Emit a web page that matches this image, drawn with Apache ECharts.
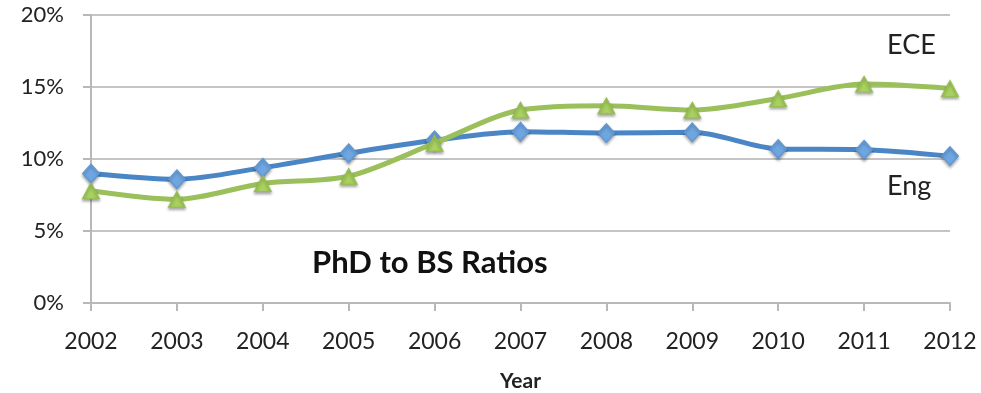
<!DOCTYPE html>
<html>
<head>
<meta charset="utf-8">
<script src="https://cdn.jsdelivr.net/npm/echarts@6/dist/echarts.min.js"></script>
<style>
html,body{margin:0;padding:0;background:#fff;}
#c{width:981px;height:393px;}
</style>
</head>
<body>
<div id="c"></div>
<script>
var years = ['2002','2003','2004','2005','2006','2007','2008','2009','2010','2011','2012'];
var engValues = [9.0, 8.6, 9.4, 10.4, 11.3, 11.9, 11.8, 11.85, 10.7, 10.65, 10.2];
var eceValues = [7.8, 7.2, 8.3, 8.8, 11.1, 13.4, 13.7, 13.4, 14.2, 15.2, 14.9];
var yTicks = [0, 5, 10, 15, 20];

var chart = echarts.init(document.getElementById('c'));
var fontFamily = 'Lato, "Open Sans", sans-serif';
chart.setOption({
  animation: false,
  backgroundColor: '#fff',
  grid: { left: 91, right: 31, top: 15, bottom: 90, containLabel: false, outerBoundsMode: 'none' },
  xAxis: {
    type: 'category',
    data: years,
    boundaryGap: false,
    axisLine: { lineStyle: { color: '#b8b8b8', width: 2 } },
    axisTick: { show: true, alignWithLabel: true, length: 8, lineStyle: { color: '#b8b8b8', width: 2 } },
    axisLabel: { color: '#222', fontSize: 23, fontFamily: fontFamily, margin: 27 },
    name: 'Year',
    nameLocation: 'middle',
    nameGap: 68,
    nameTextStyle: { color: '#222', fontSize: 21, fontWeight: 'bold', fontFamily: fontFamily }
  },
  yAxis: {
    type: 'value',
    min: yTicks[0],
    max: yTicks[yTicks.length - 1],
    interval: 5,
    axisLine: { show: true, lineStyle: { color: '#b8b8b8', width: 2 } },
    axisTick: { show: true, length: 8, lineStyle: { color: '#b8b8b8', width: 2 } },
    axisLabel: { color: '#222', fontSize: 22, fontFamily: fontFamily, margin: 27, formatter: '{value}%' },
    splitLine: { lineStyle: { color: '#c4c4c4', width: 2 } }
  },
  series: [
    {
      name: 'Eng',
      type: 'line',
      data: engValues,
      smooth: 0.3,
      symbol: 'diamond',
      symbolSize: [17, 19],
      lineStyle: { color: '#4A86C5', width: 5 },
      itemStyle: { color: '#6EA6E2', borderColor: '#5C95D2', borderWidth: 1, shadowColor: 'rgba(0,0,0,0.35)', shadowBlur: 3, shadowOffsetY: 2 },
      z: 3
    },
    {
      name: 'ECE',
      type: 'line',
      data: eceValues,
      smooth: 0.3,
      symbol: 'triangle',
      symbolSize: [17, 16],
      lineStyle: { color: '#9BBF5A', width: 5 },
      itemStyle: { color: '#A8D15F', borderColor: '#96BE52', borderWidth: 1, shadowColor: 'rgba(0,0,0,0.35)', shadowBlur: 3, shadowOffsetY: 2 },
      z: 4
    }
  ],
  graphic: [
    { type: 'text', left: 887, top: 32, style: { text: 'ECE', fill: '#222', fontSize: 27, fontFamily: fontFamily } },
    { type: 'text', left: 887, top: 173, style: { text: 'Eng', fill: '#222', fontSize: 27, fontFamily: fontFamily } },
    { type: 'text', left: 312, top: 247, style: { text: 'PhD to BS Ratios', fill: '#111', fontSize: 31, fontWeight: 'bold', fontFamily: fontFamily } }
  ]
});
</script>
</body>
</html>
